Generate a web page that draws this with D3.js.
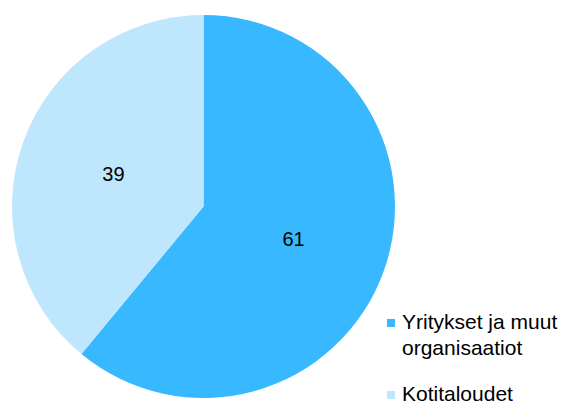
<!DOCTYPE html>
<html>
<head>
<meta charset="utf-8">
<script src="https://cdn.jsdelivr.net/npm/d3@7"></script>
<style>
  body { margin: 0; background: #fff; }
  svg { display: block; font-family: "Liberation Sans", Arial, sans-serif; }
</style>
</head>
<body>
<svg id="chart" width="563" height="406"></svg>
<script>
// data
const categories = ["Yritykset ja muut organisaatiot", "Kotitaloudet"];
const values = [61, 39];
const legendLines = [["Yritykset ja muut", "organisaatiot"], ["Kotitaloudet"]];
const colors = ["#38b8ff", "#bee6fd"];

const svg = d3.select("#chart");
const cx = 203.5, cy = 206.5, r = 191.5;

const pie = d3.pie().sort(null).value(d => d);
const arcs = pie(values);
const arc = d3.arc().innerRadius(0).outerRadius(r);

const g = svg.append("g").attr("transform", `translate(${cx},${cy})`);

g.selectAll("path")
  .data(arcs)
  .enter()
  .append("path")
  .attr("d", arc)
  .attr("fill", (d, i) => colors[i]);

// labels at half radius
const labelArc = d3.arc().innerRadius(r * 0.5).outerRadius(r * 0.5);
g.selectAll("text.lbl")
  .data(arcs)
  .enter()
  .append("text")
  .attr("class", "lbl")
  .attr("transform", d => `translate(${labelArc.centroid(d)})`)
  .attr("text-anchor", "middle")
  .attr("dy", "0.35em")
  .style("font-size", "20px")
  .style("fill", "#000")
  .text(d => d.data);

// legend (y = baseline of first line)
const legendY = [329, 401];
const lg = svg.append("g");
categories.forEach((c, i) => {
  const item = lg.append("g").attr("transform", `translate(387,${legendY[i]})`);
  item.append("rect")
    .attr("x", 0).attr("y", -10)
    .attr("width", 8).attr("height", 8)
    .attr("fill", colors[i]);
  legendLines[i].forEach((line, j) => {
    item.append("text")
      .attr("x", 15)
      .attr("y", j * 26)
      .style("font-size", "21px")
      .style("fill", "#000")
      .text(line);
  });
});
</script>
</body>
</html>
